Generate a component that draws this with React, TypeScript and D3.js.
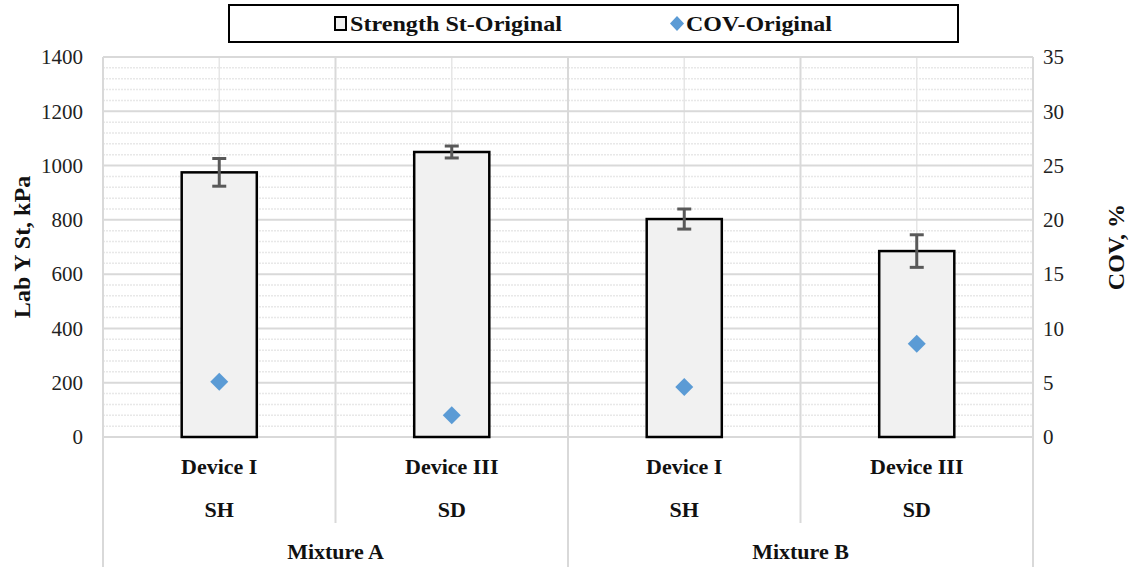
import * as d3 from 'd3';

// Chart data
const mixtures = ['Mixture A', 'Mixture B'];
const devices = ['Device I', 'Device III', 'Device I', 'Device III'];
const modes = ['SH', 'SD', 'SH', 'SD'];
const groupOf = [0, 0, 1, 1];
const strength = [975, 1050, 803, 685];
const strengthErr = [51, 22, 37, 60];
const cov = [5.1, 2.0, 4.6, 8.6];
const leftTicks = [0, 200, 400, 600, 800, 1000, 1200, 1400];
const rightTicks = [0, 5, 10, 15, 20, 25, 30, 35];

const W = 1132;
const H = 567;
const margin = { top: 57, right: 99, bottom: 130, left: 103 };
const FONT = "'Liberation Serif', 'Times New Roman', 'DejaVu Serif', serif";

export default function App() {
    const keys = devices.map((d, i) => `${i}`);
    const x = d3
        .scaleBand()
        .domain(keys)
        .range([margin.left, W - margin.right])
        .padding(0);
    const y = d3
        .scaleLinear()
        .domain([0, 1400])
        .range([H - margin.bottom, margin.top]);
    const y2 = d3
        .scaleLinear()
        .domain([0, 35])
        .range([H - margin.bottom, margin.top]);

    const bw = x.bandwidth();
    const barW = bw * 0.323;
    const x0 = margin.left;
    const x1 = W - margin.right;
    const yBase = y(0);

    // minor gridlines every 40
    const minor = d3.range(0, 1400, 40).filter((v) => v % 200 !== 0);

    const groupStarts = mixtures.map((m, gi) => {
        const idx = groupOf.map((g, i) => (g === gi ? i : -1)).filter((i) => i >= 0);
        return { name: m, start: x(keys[idx[0]]), end: x(keys[idx[idx.length - 1]]) + bw };
    });

    return (
        <svg
            width={W}
            height={H}
            style={{ position: 'absolute', left: 0, top: 0, background: '#fff', fontFamily: FONT }}
        >
            {/* minor horizontal grid */}
            {minor.map((v) => (
                <line key={'m' + v} x1={x0} x2={x1} y1={y(v)} y2={y(v)} stroke="#e8e8e8" strokeWidth={1.5} strokeDasharray="2 1" />
            ))}
            {/* vertical center grid */}
            {keys.map((k) => (
                <line key={'vc' + k} x1={x(k) + bw / 2} x2={x(k) + bw / 2} y1={margin.top} y2={yBase} stroke="#e6e6e6" strokeWidth={1.5} />
            ))}
            {/* major horizontal grid */}
            {leftTicks.map((v) => (
                <line key={'g' + v} x1={x0} x2={x1} y1={y(v)} y2={y(v)} stroke="#d9d9d9" strokeWidth={2} />
            ))}
            {/* category boundaries */}
            {keys.map((k, i) => {
                const xb = x(k);
                const full = i === 0 || groupOf[i] !== groupOf[i - 1];
                return (
                    <line key={'vb' + k} x1={xb} x2={xb} y1={margin.top} y2={full ? H : 523} stroke="#d9d9d9" strokeWidth={2} />
                );
            })}
            <line x1={x1} x2={x1} y1={margin.top} y2={H} stroke="#d9d9d9" strokeWidth={2} />

            {/* bars */}
            {strength.map((v, i) => (
                <rect
                    key={'b' + i}
                    x={x(keys[i]) + bw / 2 - barW / 2}
                    y={y(v)}
                    width={barW}
                    height={yBase - y(v)}
                    fill="#f1f1f1"
                    stroke="#000"
                    strokeWidth={2.5}
                />
            ))}
            {/* error bars */}
            {strength.map((v, i) => {
                const cx = x(keys[i]) + bw / 2;
                const hi = y(v + strengthErr[i]);
                const lo = y(v - strengthErr[i]);
                return (
                    <g key={'e' + i} stroke="#595959" strokeWidth={3}>
                        <line x1={cx} x2={cx} y1={hi} y2={lo} />
                        <line x1={cx - 7} x2={cx + 7} y1={hi} y2={hi} />
                        <line x1={cx - 7} x2={cx + 7} y1={lo} y2={lo} />
                    </g>
                );
            })}
            {/* COV diamonds */}
            {cov.map((v, i) => {
                const cx = x(keys[i]) + bw / 2;
                const cy = y2(v);
                return (
                    <path key={'d' + i} d={`M${cx},${cy - 9}L${cx + 9},${cy}L${cx},${cy + 9}L${cx - 9},${cy}Z`} fill="#5b9bd5" />
                );
            })}

            {/* left ticks */}
            {leftTicks.map((v) => (
                <text key={'lt' + v} x={83} y={y(v)} dy="0.35em" textAnchor="end" fontSize={21} fill="#222">
                    {v}
                </text>
            ))}
            {/* right ticks */}
            {rightTicks.map((v) => (
                <text key={'rt' + v} x={1043} y={y2(v)} dy="0.35em" textAnchor="start" fontSize={21} fill="#222">
                    {v}
                </text>
            ))}

            {/* category labels */}
            {keys.map((k, i) => (
                <g key={'cl' + k} fontWeight="bold" fontSize={22} textAnchor="middle" fill="#111">
                    <text x={x(k) + bw / 2} y={466} dy="0.35em">
                        {devices[i]}
                    </text>
                    <text x={x(k) + bw / 2} y={509} dy="0.35em">
                        {modes[i]}
                    </text>
                </g>
            ))}
            {groupStarts.map((g) => (
                <text key={g.name} x={(g.start + g.end) / 2} y={551} dy="0.35em" textAnchor="middle" fontWeight="bold" fontSize={22} fill="#111">
                    {g.name}
                </text>
            ))}

            {/* axis titles */}
            <text transform={`translate(22,${(margin.top + yBase) / 2}) rotate(-90)`} textAnchor="middle" dy="0.35em" fontWeight="bold" fontSize={24} fill="#111">
                Lab Y St, kPa
            </text>
            <text transform={`translate(1116,${(margin.top + yBase) / 2}) rotate(-90)`} textAnchor="middle" dy="0.35em" fontWeight="bold" fontSize={24} fill="#111">
                COV, %
            </text>

            {/* legend */}
            <rect x={229} y={5} width={729} height={37} fill="#fff" stroke="#000" strokeWidth={2} />
            <rect x={335} y={17} width={11} height={13} fill="#f1f1f1" stroke="#000" strokeWidth={2} />
            <text x={350} y={24} dy="0.35em" fontWeight="bold" fontSize={21} textLength={212} lengthAdjust="spacingAndGlyphs" fill="#111">
                Strength St-Original
            </text>
            <path d="M677,16L684,23.5L677,31L670,23.5Z" fill="#5b9bd5" />
            <text x={686} y={24} dy="0.35em" fontWeight="bold" fontSize={21} textLength={146} lengthAdjust="spacingAndGlyphs" fill="#111">
                COV-Original
            </text>
        </svg>
    );
}
